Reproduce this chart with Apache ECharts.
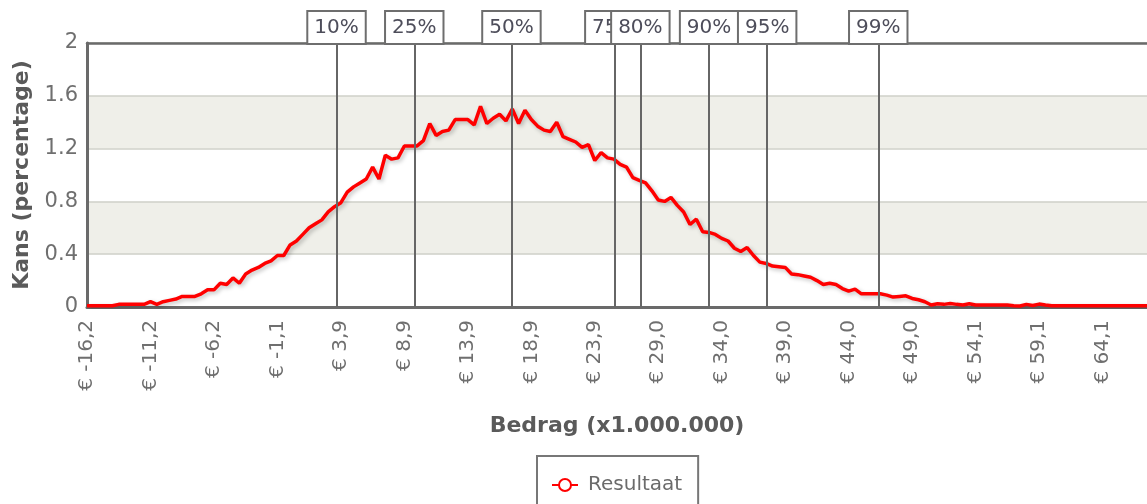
<!DOCTYPE html>
<html>
<head>
<meta charset="utf-8">
<script src="https://cdn.jsdelivr.net/npm/echarts@6/dist/echarts.min.js"></script>
<style>
html,body{margin:0;padding:0;background:#fff;}
#chart{width:1147px;height:504px;}
</style>
</head>
<body>
<div id="chart"></div>
<script>
// Kans (percentage) per bedrag-bin
const resultValues = [
  0.01,0.01,0.01,0.01,0.01,0.02,0.02,0.02,0.02,0.02,
  0.04,0.02,0.04,0.05,0.06,0.08,0.08,0.08,0.10,0.13,
  0.13,0.18,0.17,0.22,0.18,0.25,0.28,0.30,0.33,0.35,
  0.39,0.39,0.47,0.50,0.55,0.60,0.63,0.66,0.72,0.76,
  0.79,0.87,0.91,0.94,0.97,1.06,0.97,1.15,1.12,1.13,
  1.22,1.22,1.22,1.26,1.39,1.30,1.33,1.34,1.42,1.42,
  1.42,1.38,1.52,1.39,1.43,1.46,1.41,1.50,1.39,1.49,
  1.42,1.37,1.34,1.33,1.40,1.29,1.27,1.25,1.21,1.23,
  1.11,1.17,1.13,1.12,1.08,1.06,0.98,0.96,0.94,0.88,
  0.81,0.80,0.83,0.77,0.72,0.625,0.665,0.57,0.565,0.55,
  0.52,0.50,0.445,0.42,0.45,0.39,0.34,0.33,0.31,0.305,
  0.30,0.25,0.245,0.235,0.225,0.20,0.17,0.18,0.17,0.14,
  0.12,0.135,0.10,0.10,0.10,0.10,0.09,0.075,0.08,0.085,
  0.065,0.055,0.04,0.015,0.025,0.02,0.027,0.02,0.015,0.025,
  0.015,0.015,0.015,0.015,0.015,0.015,0.01,0.008,0.02,0.012,
  0.022,0.015,0.01,0.01,0.01,0.01,0.01,0.01,0.01,0.01,
  0.01,0.01,0.01,0.01,0.01,0.01,0.01,0.01
];
// x tick labels (one every 10 bins)
const tickLabels = ['€ -16,2','€ -11,2','€ -6,2','€ -1,1','€ 3,9','€ 8,9','€ 13,9','€ 18,9','€ 23,9',
  '€ 29,0','€ 34,0','€ 39,0','€ 44,0','€ 49,0','€ 54,1','€ 59,1','€ 64,1'];
const binStart = -16.2;   // bedrag of first bin (x1.000.000)
const binStep = 0.5017;   // bedrag per bin
const binsPerTick = 10;
// percentiles
const pctLabels = ['10%','25%','50%','75%','80%','90%','95%','99%'];
const pctValues = [3.52, 9.67, 17.35, 25.48, 27.54, 32.97, 37.56, 46.34];

const FONT = 'DejaVu Sans';
const chart = echarts.init(document.getElementById('chart'));
const lastIndex = resultValues.length - 1;

chart.setOption({
  animation: false,
  backgroundColor: '#ffffff',
  grid: {
    left: 87, top: 43, right: -6, bottom: 197,
    show: false
  },
  legend: {
    data: ['Resultaat'],
    left: 537, top: 456,
    padding: [19, 16, 20, 14],
    borderColor: '#777', borderWidth: 2, backgroundColor: '#fff',
    itemWidth: 26, itemHeight: 15,
    textStyle: { fontFamily: FONT, fontSize: 20, color: '#6b6b6b', padding: [0, 0, 0, 5] }
  },
  xAxis: [{
    type: 'value', min: 0, max: lastIndex, interval: binsPerTick,
    name: 'Bedrag (x1.000.000)', nameLocation: 'middle', nameGap: 108,
    nameTextStyle: { fontFamily: FONT, fontSize: 22, fontWeight: 'bold', color: '#5a5a5a' },
    axisLine: { show: true, lineStyle: { color: '#6a6a6a', width: 3 } },
    axisTick: { show: false },
    splitLine: { show: false },
    axisLabel: {
      rotate: 90, margin: 13,
      fontFamily: FONT, fontSize: 20, color: '#6f6f6f',
      formatter: v => { const k = v / binsPerTick; return Number.isInteger(k) && tickLabels[k] ? tickLabels[k] : ''; }
    }
  }, {
    type: 'value', position: 'top', min: 0, max: lastIndex,
    axisLine: { show: true, lineStyle: { color: '#6a6a6a', width: 2.5 } },
    axisTick: { show: false }, axisLabel: { show: false }, splitLine: { show: false }
  }],
  yAxis: {
    type: 'value', min: 0, max: 2, interval: 0.4,
    name: 'Kans (percentage)', nameLocation: 'middle', nameGap: 50,
    nameTextStyle: { fontFamily: FONT, fontSize: 22, fontWeight: 'bold', color: '#5a5a5a' },
    axisLine: { show: true, lineStyle: { color: '#6a6a6a', width: 3 } },
    axisTick: { show: false },
    axisLabel: {
      fontFamily: FONT, fontSize: 21, color: '#6f6f6f', margin: 9,
      formatter: v => String(Math.round(v * 10) / 10)
    },
    splitLine: { show: true, lineStyle: { color: '#cfd0c8', width: 1.5 } },
    splitArea: { show: true, areaStyle: { color: ['#ffffff', '#efefe9'] } }
  },
  series: [
    {
      name: 'percentielen', type: 'line', data: [], z: 1, silent: true,
      markLine: {
        silent: true, symbol: ['none', 'none'],
        lineStyle: { color: '#666', width: 2, type: 'solid' },
        label: {
          show: true, position: 'end', distance: 0,
          formatter: p => p.name,
          backgroundColor: '#fff', borderColor: '#6e6e6e', borderWidth: 2,
          padding: [6, 6, 5, 6],
          fontFamily: FONT, fontSize: 20, color: '#4d4d5a'
        },
        emphasis: { disabled: true },
        data: pctValues.map((v, i) => ({ name: pctLabels[i], xAxis: (v - binStart) / binStep }))
      }
    },
    {
      name: 'Resultaat', type: 'line', z: 3,
      data: resultValues.map((y, i) => [i, y]),
      showSymbol: false, symbol: 'emptyCircle', symbolSize: 13,
      itemStyle: { color: '#ff0000', borderWidth: 3 },
      lineStyle: { color: '#ff0000', width: 3.5, shadowColor: 'rgba(0,0,0,0.25)', shadowBlur: 4, shadowOffsetX: 2, shadowOffsetY: 2 }
    }
  ]
});
</script>
</body>
</html>
